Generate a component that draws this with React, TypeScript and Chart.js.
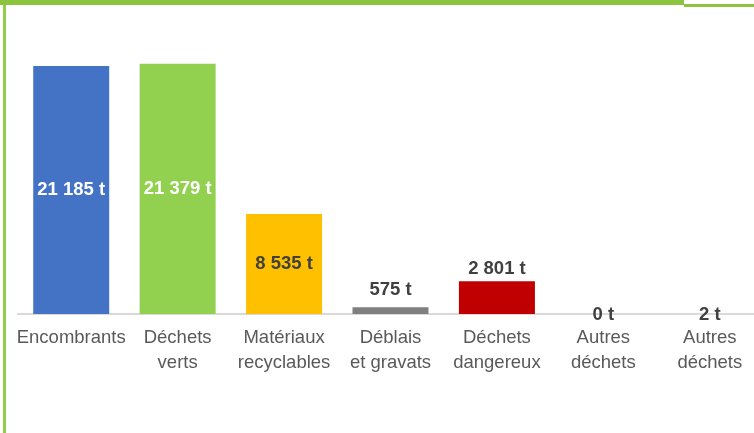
import React, { useEffect, useRef } from "react";
import { Chart, registerables } from "chart.js";

Chart.register(...registerables);

const categories: string[][] = [
  ["Encombrants"],
  ["Déchets", "verts"],
  ["Matériaux", "recyclables"],
  ["Déblais", "et gravats"],
  ["Déchets", "dangereux"],
  ["Autres", "déchets"],
  ["Autres", "déchets"],
];
const tonnages: number[] = [21185, 21379, 8535, 575, 2801, 0, 2];
const valueLabels: string[] = ["21 185 t", "21 379 t", "8 535 t", "575 t", "2 801 t", "0 t", "2 t"];
const barColors: string[] = ["#4472C4", "#92D050", "#FFC000", "#7F7F7F", "#C00000", "#A5A5A5", "#5B9BD5"];

// label style: inside-centre for tall bars, above the bar for short ones
const labelColors: string[] = ["#FFFFFF", "#FFFFFF", "#404040", "#404040", "#404040", "#404040", "#404040"];
const labelModes: string[] = ["center", "center", "center", "end", "end", "end", "end"];
const labelGaps: number[] = [0, 0, 0, 17, 12, -1, -1];

const valueLabelPlugin = {
  id: "valueLabels",
  afterDatasetsDraw(chart: any) {
    const ctx = chart.ctx;
    const meta = chart.getDatasetMeta(0);
    ctx.save();
    ctx.font = "bold 18.5px 'Liberation Sans', Arial, sans-serif";
    ctx.textAlign = "center";
    ctx.textBaseline = "middle";
    meta.data.forEach((bar: any, i: number) => {
      const { x, y, base } = bar.getProps(["x", "y", "base"], true);
      const ly = labelModes[i] === "center" ? (y + base) / 2 : y - labelGaps[i];
      ctx.fillStyle = labelColors[i];
      ctx.fillText(valueLabels[i], x, ly);
    });
    ctx.restore();
  },
};

function BarChart() {
  const ref = useRef<HTMLCanvasElement | null>(null);
  useEffect(() => {
    if (!ref.current) return;
    const chart = new Chart(ref.current, {
      type: "bar",
      data: {
        labels: categories,
        datasets: [
          {
            data: tonnages,
            backgroundColor: barColors,
            borderWidth: 0,
            barPercentage: 0.714,
            categoryPercentage: 1,
          },
        ],
      },
      options: {
        animation: false,
        responsive: false,
        maintainAspectRatio: false,
        layout: { padding: { left: 18, right: 1, top: 21.4, bottom: 0 } },
        plugins: {
          legend: { display: false },
          tooltip: { enabled: false },
        },
        scales: {
          x: {
            grid: { display: false, drawTicks: false },
            border: { display: true, color: "#D9D9D9", width: 2 },
            ticks: {
              color: "#595959",
              font: { family: "'Liberation Sans', Arial, sans-serif", size: 18.5, lineHeight: 1.32 },
              padding: 12,
              maxRotation: 0,
              autoSkip: false,
            },
            afterFit: (scale: any) => {
              scale.height = 119;
            },
          },
          y: {
            display: false,
            min: 0,
            max: 25000,
          },
        },
      },
      plugins: [valueLabelPlugin],
    });
    return () => chart.destroy();
  }, []);
  return (
    <canvas
      ref={ref}
      width={764}
      height={433}
      style={{ position: "absolute", left: 0, top: 0, width: 764, height: 433 }}
    />
  );
}

export default function App() {
  return (
    <div
      style={{
        position: "fixed",
        left: 0,
        top: 0,
        width: 754,
        height: 433,
        overflow: "hidden",
        background: "#FFFFFF",
      }}
    >
      <BarChart />
      <div style={{ position: "absolute", left: 0, top: 0, width: 684, height: 5, background: "#8CC43F" }} />
      <div style={{ position: "absolute", left: 684, top: 4, width: 70, height: 2.5, background: "#8CC43F" }} />
      <div style={{ position: "absolute", left: 3, top: 5, width: 3, height: 428, background: "#92CE4C" }} />
    </div>
  );
}
